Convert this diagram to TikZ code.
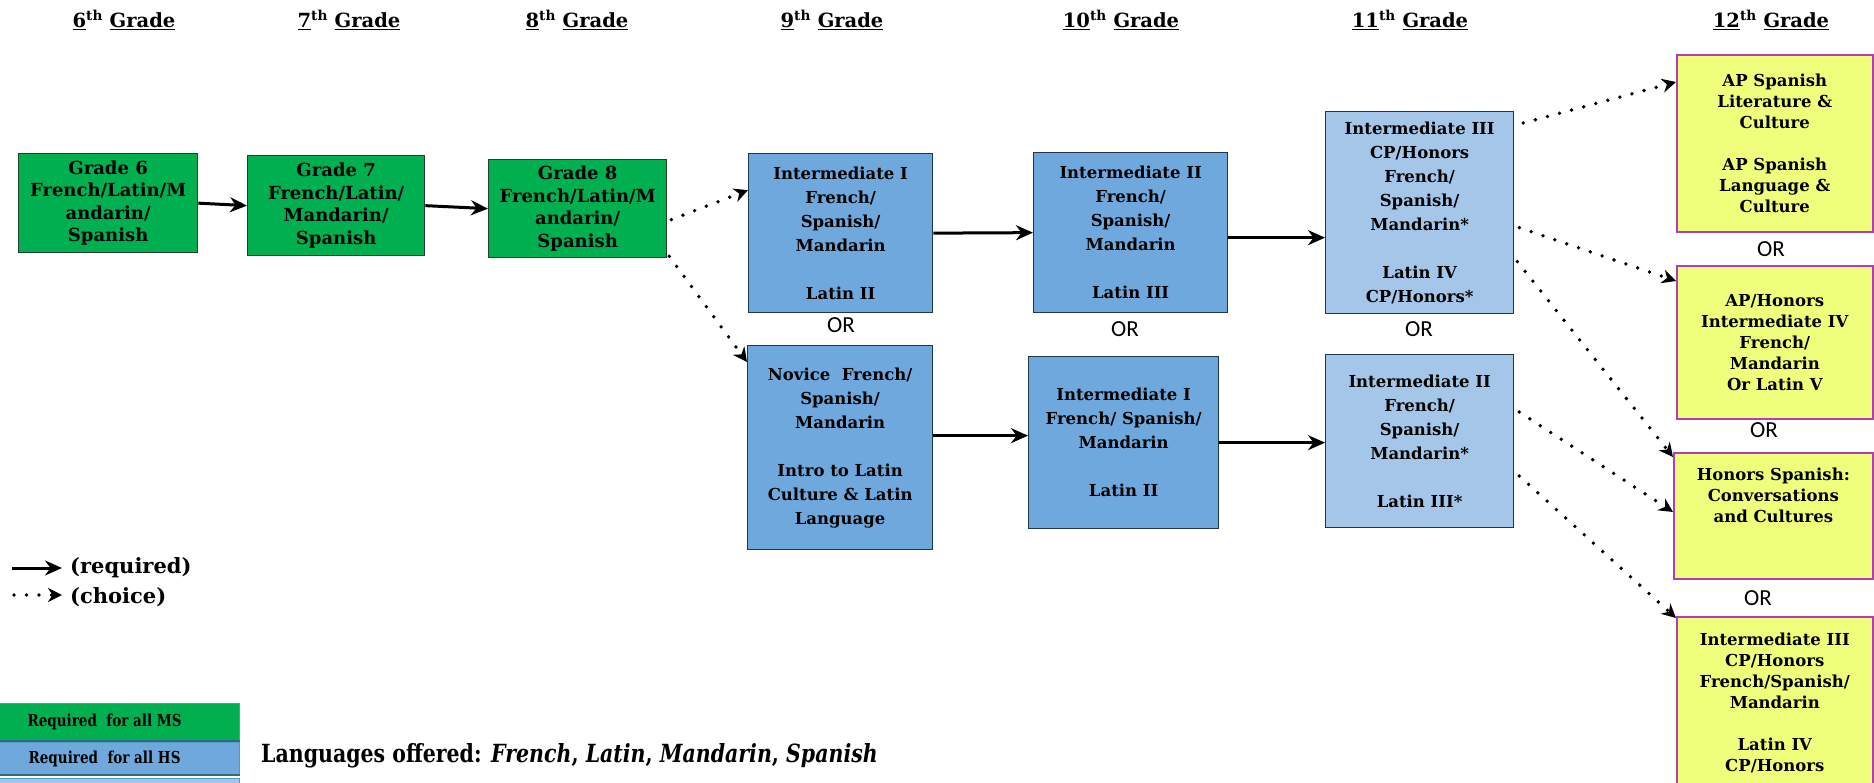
\documentclass[tikz,border=0pt]{standalone}
\usepackage{fontspec}
\setmainfont{DejaVu Serif}
\newfontfamily\orfont{Carlito}
\newfontfamily\narrowserif[FakeStretch=0.82]{DejaVu Serif}
\usetikzlibrary{arrows.meta}

\definecolor{msgreen}{HTML}{00B050}
\definecolor{hsblue}{HTML}{6FA8DC}
\definecolor{hslight}{HTML}{A4C6E9}
\definecolor{apyellow}{HTML}{EFFF7B}
\definecolor{apedge}{HTML}{B43CB4}
\definecolor{boxedge}{HTML}{1F3550}
\definecolor{greenedge}{HTML}{24402C}
\definecolor{legedge}{HTML}{4A9CC0}
\definecolor{legsep}{HTML}{3B6585}

\begin{document}
\begin{tikzpicture}[x=1pt,y=-1pt,
  course/.style={draw, line width=1.3pt, align=center, inner sep=0pt,
    anchor=north west, font=\bfseries\fontsize{16.5}{24}\selectfont},
  msbox/.style={course, fill=msgreen, draw=greenedge,
    font=\bfseries\fontsize{18}{22.5}\selectfont},
  hsbox/.style={course, fill=hsblue, draw=boxedge},
  upbox/.style={course, fill=hslight, draw=boxedge},
  apbox/.style={course, fill=apyellow, draw=apedge, line width=1.6pt,
    font=\bfseries\fontsize{16.5}{21}\selectfont},
  gradehead/.style={font=\bfseries\fontsize{19.5}{22}\selectfont},
  ortext/.style={font=\orfont\fontsize{23}{26}\selectfont},
  legtext/.style={anchor=west, inner sep=0pt,
    font=\bfseries\fontsize{21}{24}\selectfont},
  legbox/.style={draw=legedge, line width=1.2pt, anchor=north west,
    minimum width=270pt, inner sep=0pt,
    font=\narrowserif\bfseries\fontsize{16.5}{20}\selectfont},
  req/.style={line width=3pt, -{Stealth[length=17pt,width=15pt]}},
  opt/.style={line width=3.8pt, line cap=round, dash pattern=on 0pt off 12.5pt,
    -{Stealth[length=14pt,width=14pt]}},
]
\useasboundingbox (0,0) rectangle (1874,783);

% grade headings
\node[gradehead] (h6)  at (124,20)  {\underline{6}\textsuperscript{th} \underline{Grade}};
\node[gradehead] (h7)  at (349,20)  {\underline{7}\textsuperscript{th} \underline{Grade}};
\node[gradehead] (h8)  at (577,20)  {\underline{8}\textsuperscript{th} \underline{Grade}};
\node[gradehead] (h9)  at (832,20)  {\underline{9}\textsuperscript{th} \underline{Grade}};
\node[gradehead] (h10) at (1121,20) {\underline{10}\textsuperscript{th} \underline{Grade}};
\node[gradehead] (h11) at (1410,20) {\underline{11}\textsuperscript{th} \underline{Grade}};
\node[gradehead] (h12) at (1771,20) {\underline{12}\textsuperscript{th} \underline{Grade}};

% middle school
\node[msbox, minimum width=179pt, minimum height=99pt] (g6) at (18,153)
  {Grade 6\\French/Latin/M\\andarin/\\Spanish};
\node[msbox, minimum width=177pt, minimum height=100pt] (g7) at (247,155)
  {Grade 7\\French/Latin/\\Mandarin/\\Spanish};
\node[msbox, minimum width=178pt, minimum height=98pt] (g8) at (488,159)
  {Grade 8\\French/Latin/M\\andarin/\\Spanish};

% 9th and 10th grade
\node[hsbox, minimum width=184pt, minimum height=159pt] (b9a) at (748,153)
  {Intermediate I\\French/\\Spanish/\\Mandarin\\~\\Latin II};
\node[hsbox, minimum width=185pt, minimum height=204pt] (b9b) at (747,345)
  {Novice\ \ French/\\Spanish/\\Mandarin\\~\\Intro to Latin\\Culture \& Latin\\Language};
\node[hsbox, minimum width=194pt, minimum height=160pt] (b10a) at (1033,152)
  {Intermediate II\\French/\\Spanish/\\Mandarin\\~\\Latin III};
\node[hsbox, minimum width=190pt, minimum height=172pt] (b10b) at (1028,356)
  {Intermediate I\\French/ Spanish/\\Mandarin\\~\\Latin II};

% 11th grade
\node[upbox, minimum width=188pt, minimum height=202pt] (b11a) at (1325,111)
  {Intermediate III\\CP/Honors\\French/\\Spanish/\\Mandarin*\\~\\Latin IV\\CP/Honors*};
\node[upbox, minimum width=188pt, minimum height=173pt] (b11b) at (1325,354)
  {Intermediate II\\French/\\Spanish/\\Mandarin*\\~\\Latin III*};

% 12th grade
\node[apbox, minimum width=196pt, minimum height=177pt] (y1) at (1676,54)
  {AP Spanish\\Literature \&\\Culture\\~\\AP Spanish\\Language \&\\Culture};
\node[apbox, minimum width=196pt, minimum height=153pt] (y2) at (1676,265)
  {AP/Honors\\Intermediate IV\\French/\\Mandarin\\Or Latin V};
\node[apbox, minimum width=199pt, minimum height=126pt] (y3) at (1673,452)
  {Honors Spanish:\\Conversations\\and Cultures\\~\\~};
\node[apbox, minimum width=196pt, minimum height=172pt] (y4) at (1676,616)
  {Intermediate III\\CP/Honors\\French/Spanish/\\Mandarin\\~\\Latin IV\\CP/Honors};

% alternatives
\node[ortext] (or9)   at (841,325)  {OR};
\node[ortext] (or10)  at (1125,329) {OR};
\node[ortext] (or11)  at (1419,329) {OR};
\node[ortext] (or12a) at (1771,249) {OR};
\node[ortext] (or12b) at (1764,430) {OR};
\node[ortext] (or12c) at (1758,598) {OR};

% required sequence
\draw[req] (g6.east) -- (g7.west);
\draw[req] (g7.east) -- (g8.west);
\draw[req] (b9a.east) -- (b10a.west);
\draw[req] ([yshift=-5pt]b10a.east) -- ([yshift=-5pt]b10a.east -| b11a.west);
\draw[req] ([yshift=12pt]b9b.east) -- ([yshift=12pt]b9b.east -| b10b.west);
\draw[req] (b10b.east) -- (b10b.east -| b11b.west);

% choices
\draw[opt] ([shift={(4,11)}]g8.east) -- ([shift={(0,-43)}]b9a.west);
\draw[opt] ([shift={(2,-2)}]g8.south east) -- ([shift={(0,17)}]b9b.north west);
\draw[opt] ([shift={(9,12)}]b11a.north east) -- ([shift={(0,28)}]y1.north west);
\draw[opt] ([shift={(5,15)}]b11a.east) -- ([shift={(0,16)}]y2.north west);
\draw[opt] ([shift={(3,49)}]b11a.east) -- ([shift={(0,5)}]y3.north west);
\draw[opt] ([shift={(5,58)}]b11b.north east) -- ([shift={(0,60)}]y3.north west);
\draw[opt] ([shift={(5,122)}]b11b.north east) -- ([shift={(0,2)}]y4.north west);

% arrow key
\node[legtext] (kreq) at (70,568) {(required)};
\node[legtext] (kopt) at (70,597) {(choice)};
\coordinate (kreq0) at (12,568);
\coordinate (kopt0) at (14,595);
\draw[req] (kreq0) -- ([xshift=-8pt]kreq.west);
\draw[opt] (kopt0) -- ([xshift=-8pt,yshift=2pt]kopt.west);

% colour key
\node[legbox, fill=msgreen, minimum height=37pt] (kms) at (-31,703) {Required\ \ for all MS};
\node[legbox, fill=hsblue, minimum height=32pt] (khs) at (-31,742) {Required\ \ for all HS};
\node[legbox, fill=hslight, minimum height=30pt] (kup) at (-31,778) {};
\draw[legsep, line width=2.5pt] (kms.south west) -- (kms.south east);
\draw[legsep, line width=2.5pt] (khs.south west) -- (khs.south east);

\node[anchor=west, inner sep=0pt, font=\narrowserif\bfseries\fontsize{25}{28}\selectfont] (langs) at (261,756)
  {Languages offered: \textit{French}, \textit{Latin}, \textit{Mandarin}, \textit{Spanish}};
\end{tikzpicture}
\end{document}
